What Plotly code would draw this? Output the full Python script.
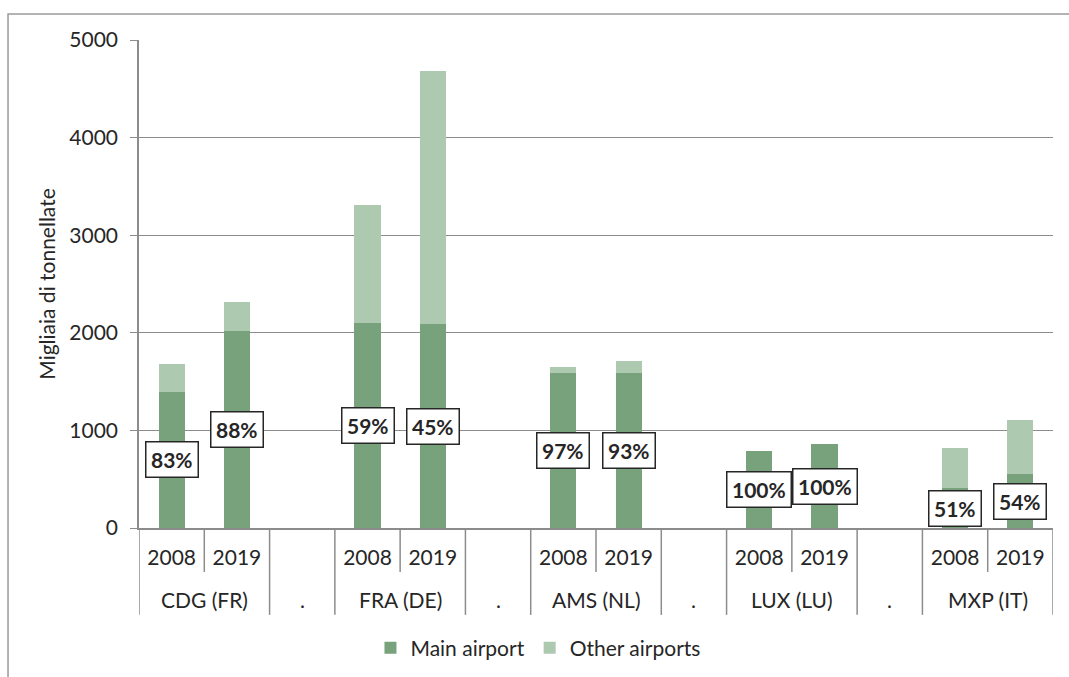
import plotly.graph_objects as go

airports = ["CDG (FR)", "FRA (DE)", "AMS (NL)", "LUX (LU)", "MXP (IT)"]
years = ["2008", "2019"]
# thousand tonnes, order: airport x year
main_airport = [1397, 2018, 2100, 2090, 1588, 1588, 789, 857, 406, 553]
other_airports = [280, 298, 1209, 2592, 62, 120, 0, 0, 410, 553]
shares = ["83%", "88%", "59%", "45%", "97%", "93%", "100%", "100%", "51%", "54%"]
separator_label = "."

MAIN_COL = "#77a27c"
OTHER_COL = "#adc9b0"
TXT = "#262626"
GRID = "#8c8c8c"
FONT = "Lato"
FS = 21

# category slots: airport/year bars plus blank separator slots
cats, ticktext, ymain, yother, idx_of = [], [], [], [], []
groups = []  # (label, first index, last index)
seps = []
k = 0
for i, ap in enumerate(airports):
    start = len(cats)
    for yr in years:
        cats.append(ap + " " + yr)
        ticktext.append(yr)
        ymain.append(main_airport[k])
        yother.append(other_airports[k])
        idx_of.append(len(cats) - 1)
        k += 1
    groups.append((ap, start, len(cats) - 1))
    if i < len(airports) - 1:
        cats.append("sep%d" % i)
        ticktext.append("")
        ymain.append(None)
        yother.append(None)
        groups.append((separator_label, len(cats) - 1, len(cats) - 1))
        seps.append(len(cats) - 1)

fig = go.Figure()
fig.add_trace(go.Bar(x=cats, y=ymain, name="Main airport",
                     marker=dict(color=MAIN_COL, line=dict(width=0))))
fig.add_trace(go.Bar(x=cats, y=yother, name="Other airports",
                     marker=dict(color=OTHER_COL, line=dict(width=0))))

for n, lab in enumerate(shares):
    fig.add_annotation(x=idx_of[n], y=main_airport[n] / 2, text="<b>" + lab + "</b>",
                       showarrow=False, font=dict(family=FONT, size=FS, color=TXT),
                       bgcolor="white", bordercolor=TXT, borderwidth=1.5, borderpad=4.5,
                       xref="x", yref="y")

# second-level (group) labels
GROUP_Y = -0.1475
for lab, a, b in groups:
    fig.add_annotation(x=(a + b) / 2, y=GROUP_Y, xref="x", yref="paper", text=lab,
                       showarrow=False, yanchor="middle",
                       font=dict(family=FONT, size=FS, color=TXT))

# dividers: full height at group edges, short between years
FULL = -0.178
SHORT = -0.09
full_pos = [-0.5, len(cats) - 0.5]
for s in seps:
    full_pos += [s - 0.5, s + 0.5]
for p in full_pos:
    fig.add_shape(type="line", xref="x", yref="paper", x0=p, x1=p, y0=0, y1=FULL,
                  line=dict(color=GRID, width=1.5))
for ap, a, b in groups:
    if b > a:
        p = a + 0.5
        fig.add_shape(type="line", xref="x", yref="paper", x0=p, x1=p, y0=0, y1=SHORT,
                      line=dict(color=GRID, width=1.5))

# outer chart border (only top/left visible in frame)
fig.add_shape(type="rect", xref="paper", yref="paper", x0=-0.1433, x1=1.2, y0=-0.5, y1=1.0533,
              line=dict(color="#9a9a9a", width=1.5), fillcolor="rgba(0,0,0,0)", layer="below")

fig.update_layout(
    width=1069, height=677,
    margin=dict(l=139, r=16, t=40, b=149, autoexpand=False),
    barmode="stack", bargap=0.6,
    plot_bgcolor="white", paper_bgcolor="white",
    font=dict(family=FONT, size=FS, color=TXT),
    showlegend=True,
    legend=dict(orientation="h", x=0.4365, xanchor="center", xref="paper",
                y=0.0428, yanchor="middle", yref="container",
                font=dict(family=FONT, size=FS, color=TXT), traceorder="normal",
                itemwidth=30),
)
fig.update_yaxes(range=[0, 5000], dtick=1000, showgrid=True, gridcolor=GRID, gridwidth=1.3,
                 showline=True, linecolor=GRID, linewidth=1.5, ticks="outside", ticklen=7,
                 tickcolor=GRID, tickwidth=1.3, zeroline=False, automargin=False,
                 ticklabelstandoff=8,
                 title=dict(text="Migliaia di tonnellate", font=dict(family=FONT, size=FS, color=TXT),
                            standoff=8))
fig.update_xaxes(type="category", categoryorder="array", categoryarray=cats,
                 range=[-0.5, len(cats) - 0.5],
                 tickmode="array", tickvals=cats, ticktext=ticktext,
                 showline=True, linecolor=GRID, linewidth=1.5, ticks="",
                 ticklabelstandoff=10, automargin=False,
                 tickfont=dict(family=FONT, size=FS, color=TXT))

fig.write_html("out.html", config={"displayModeBar": False},
               post_script="document.body.style.margin='0';")
